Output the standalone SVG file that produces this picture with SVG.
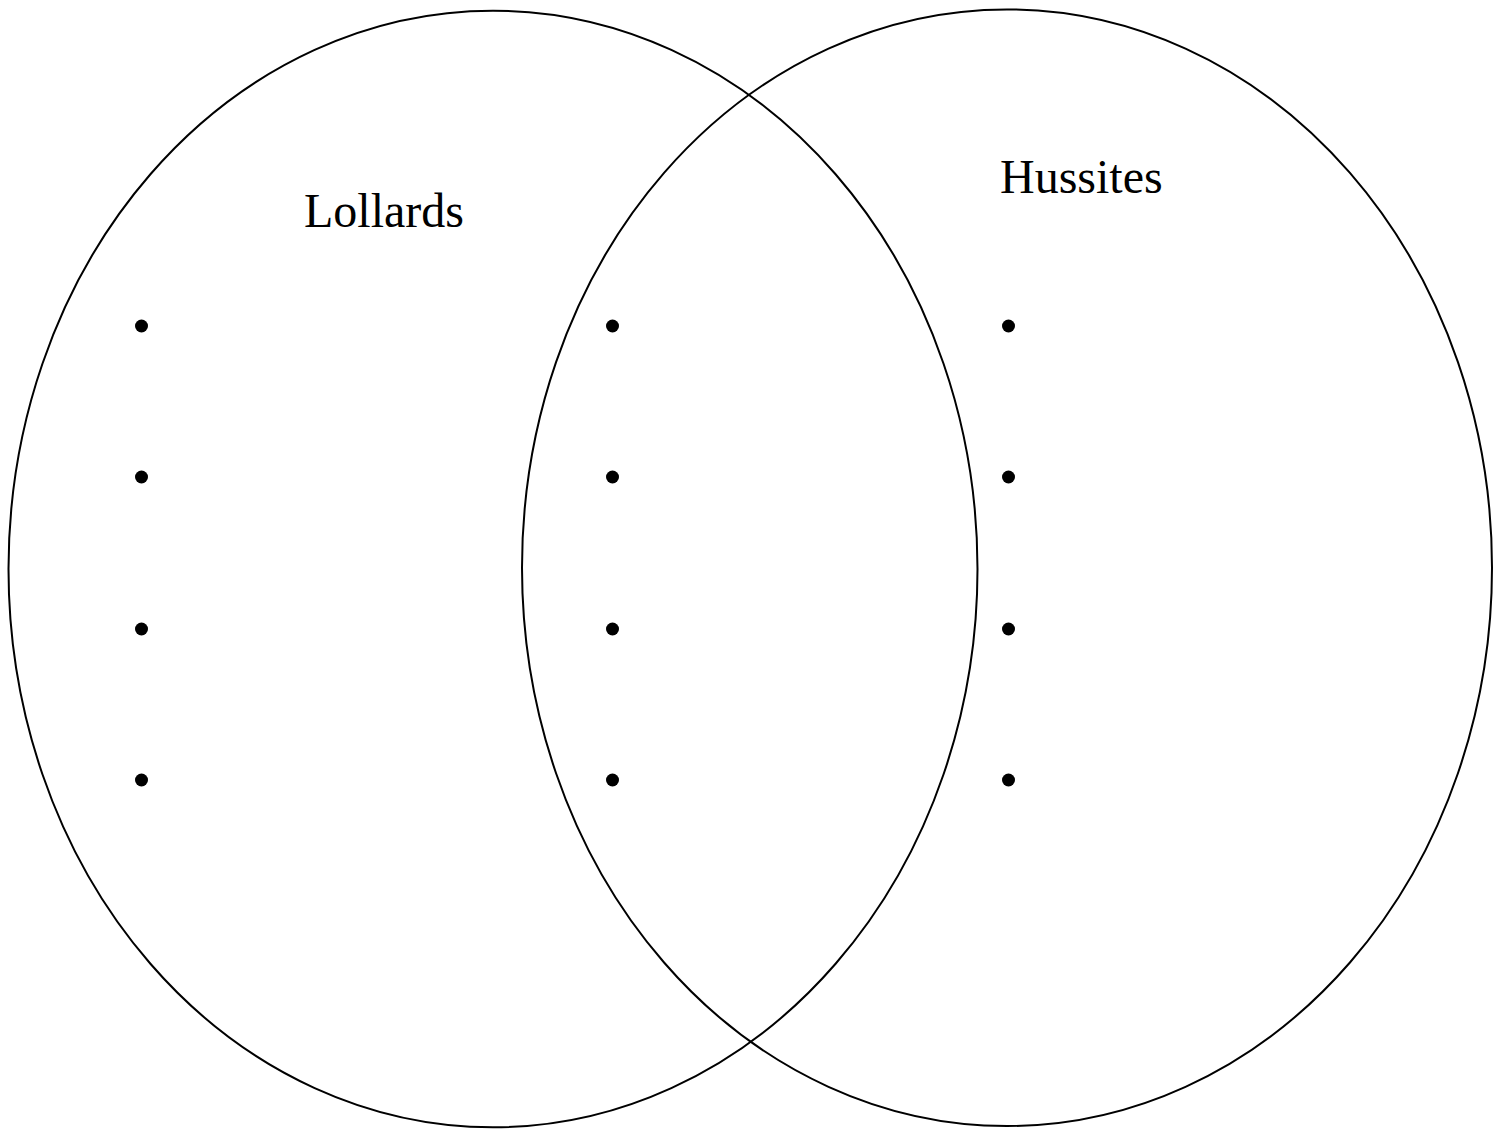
<svg xmlns="http://www.w3.org/2000/svg" width="1502" height="1129" viewBox="0 0 1502 1129">
<style>
.c{fill:none;stroke:#000;stroke-width:2}
.t{font-family:"Liberation Serif","Times New Roman",serif;font-size:48px;fill:#000}
.d{fill:#000}
</style>
<rect width="1502" height="1129" fill="#fff"/>
<g id="lollards">
<ellipse class="c" cx="493" cy="569" rx="484.5" ry="558.3"/>
<text class="t" x="304" y="227">Lollards</text>
</g>
<g id="hussites">
<ellipse class="c" cx="1007" cy="567.7" rx="485" ry="558.3"/>
<text class="t" x="1000" y="193">Hussites</text>
</g>
<g id="bullets">
<circle class="d" cx="141.5" cy="326" r="6.5"/>
<circle class="d" cx="141.5" cy="477" r="6.5"/>
<circle class="d" cx="141.5" cy="629" r="6.5"/>
<circle class="d" cx="141.5" cy="780" r="6.5"/>
<circle class="d" cx="612.5" cy="326" r="6.5"/>
<circle class="d" cx="612.5" cy="477" r="6.5"/>
<circle class="d" cx="612.5" cy="629" r="6.5"/>
<circle class="d" cx="612.5" cy="780" r="6.5"/>
<circle class="d" cx="1008.5" cy="326" r="6.5"/>
<circle class="d" cx="1008.5" cy="477" r="6.5"/>
<circle class="d" cx="1008.5" cy="629" r="6.5"/>
<circle class="d" cx="1008.5" cy="780" r="6.5"/>
</g>
<g id="connectors"/>
</svg>
